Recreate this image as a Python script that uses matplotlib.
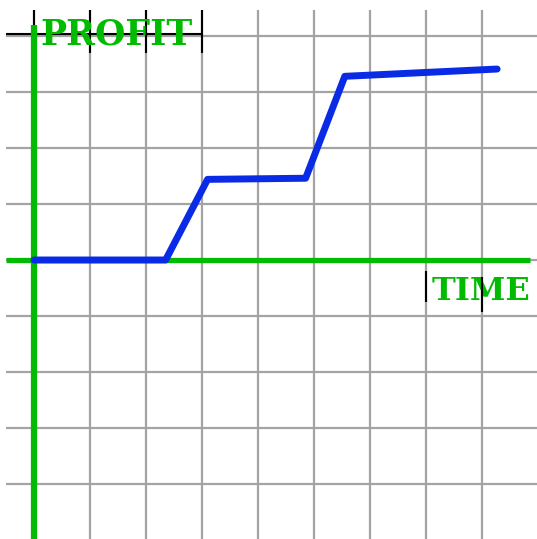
import matplotlib.pyplot as plt

# curva de beneficio (unidades = casillas de la cuadricula)
tiempo = [0, 2.35, 3.1, 4.85, 5.55, 8.27]
beneficio = [0, 0, 1.44, 1.46, 3.28, 3.41]

grid_x = [0, 1, 2, 3, 4, 5, 6, 7, 8]
grid_y = [4, 3, 2, 1, 0, -1, -2, -3, -4]

VERDE = '#00bb00'
AZUL = '#0a2be6'
GRIS = '#a3a3a3'

fig = plt.figure(figsize=(5.37, 5.39), dpi=100)
ax = fig.add_axes([0, 0, 1, 1])
ax.set_xlim(-34 / 56, 503 / 56)
ax.set_ylim(-279 / 56, 260 / 56)
ax.axis('off')

# cuadricula
ax.vlines(grid_x, -5, 4.46, color=GRIS, lw=1.6, zorder=1)
ax.hlines(grid_y, -0.5, 9.2, color=GRIS, lw=1.6, zorder=1)

# trazos negros de arriba y junto a TIME
ax.hlines(4.04, -0.5, 3.02, color='black', lw=1.5, zorder=2)
ax.vlines([0, 1, 2.0, 3.0], 3.7, 4.46, color='black', lw=1.5, zorder=2)
ax.vlines([7], -0.75, -0.2, color='black', lw=1.5, zorder=4)
ax.vlines([8], -0.93, -0.3, color='black', lw=1.5, zorder=4)

# ejes verdes
ax.plot([0, 0], [-5, 4.2], color=VERDE, lw=4.5, solid_capstyle='butt', zorder=3)
ax.plot([-0.5, 8.86], [0, 0], color=VERDE, lw=3.8, solid_capstyle='butt', zorder=3)

ax.plot(tiempo, beneficio, color=AZUL, lw=5, solid_joinstyle='round',
        solid_capstyle='round', zorder=5)

ax.text(0.11, 3.84, 'PROFIT', color=VERDE, fontsize=25, fontweight='bold',
        family='DejaVu Serif', va='baseline', ha='left', zorder=3)
ax.text(7.1, -0.72, 'TIME', color=VERDE, fontsize=23, fontweight='bold',
        family='DejaVu Serif', va='baseline', ha='left', zorder=3)

fig.savefig('out.png', dpi=100)
